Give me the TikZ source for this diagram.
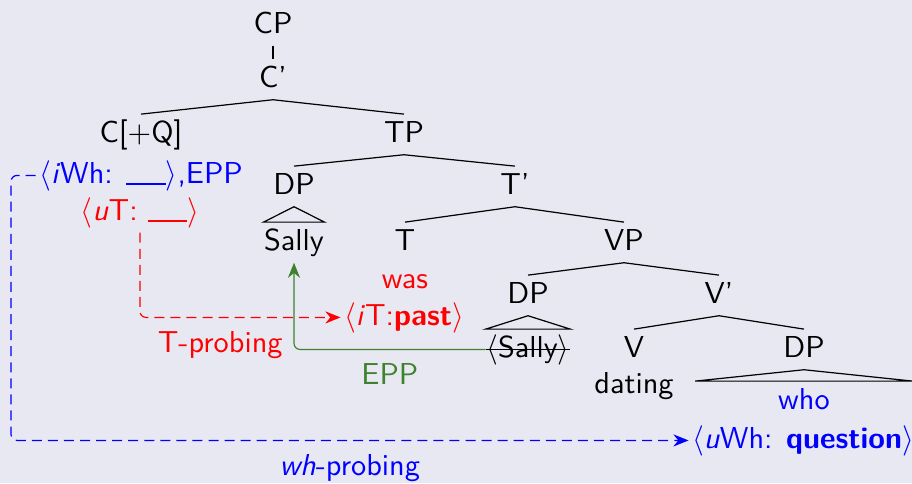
\documentclass[tikz,border=0pt]{standalone}
\usepackage{amsmath}
\usetikzlibrary{arrows.meta}
\renewcommand{\familydefault}{\sfdefault}
\definecolor{slidebg}{RGB}{232,232,242}
\definecolor{eppgreen}{RGB}{62,130,45}
\newcommand{\gap}{\rule[-0.5pt]{13pt}{0.5pt}}

\begin{document}
\begin{tikzpicture}[x=0.33pt, y=-0.33pt,
  cat/.style = {inner xsep=1pt, inner ysep=2pt, text height=7pt, text depth=2pt, anchor=base},
  leaf/.style = {cat, inner xsep=0pt},
  probe/.style = {dash pattern=on 3.3pt off 2pt, rounded corners=2pt, -{Stealth[length=5pt,width=4pt]}}]
\fill [slidebg] (0,0) rectangle (912,483);
\useasboundingbox (0,0) rectangle (912,483);

% categories
\node [cat] (cp) at (273,33) {CP};
\node [cat] (cbar) at (273,87) {C'};
\node [cat] (c) at (141,142) {C[+Q]};
\node [cat] (tp) at (404,142) {TP};
\node [cat] (dpsubj) at (294,194) {DP};
\node [cat] (tbar) at (515,194) {T'};
\node [cat] (t) at (405,250) {T};
\node [cat] (vp) at (624,250) {VP};
\node [cat] (dptrace) at (528,303) {DP};
\node [cat] (vbar) at (719,303) {V'};
\node [cat] (v) at (634,357) {V};
\node [cat] (dpobj) at (804,357) {DP};

% words and features
\node [leaf] (sally) at (294,250) {Sally};
\node [leaf] (sallyt) at (528,357) {$\langle$Sally$\rangle$};
\node [leaf, minimum width=71.5pt, text=blue] (who) at (804,409) {who};
\node [cat] (dating) at (634,393) {dating};
\node [cat, text=red] (was) at (405,288) {was};
\node [cat, text=blue] (iwh) at (141,183) {$\langle$\textit{i}Wh: \gap$\rangle$,EPP};
\node [cat, text=red] (ut) at (140,220) {$\langle$\textit{u}T: \gap$\rangle$};
\node [cat, text=red] (itpast) at (404,325) {$\langle$\textit{i}T:\textbf{past}$\rangle$};
\node [cat, text=blue] (uwhq) at (803,448) {$\langle$\textit{u}Wh: \textbf{question}$\rangle$};

% branches and roofs
\foreach \p/\c in {cp/cbar, cbar/c, cbar/tp, tp/dpsubj, tp/tbar, tbar/t, tbar/vp,
                   vp/dptrace, vp/vbar, vbar/v, vbar/dpobj}
  \draw (\p.south) -- (\c.north);
\foreach \p/\c in {dpsubj/sally, dptrace/sallyt, dpobj/who}
  \draw (\p.south) -- (\c.north west) -- (\c.north east) -- cycle;
\draw (sallyt.west) -- (sallyt.east);

% agreement and movement
\coordinate (whbend) at (11,0);
\draw [probe, blue] (iwh.west) -- (iwh.west -| whbend)
  |- node [pos=0.75, below, yshift=-1pt] {\textit{wh}-probing} (uwhq.west);
\draw [probe, red] (ut.south) |- node [pos=0.7, below, yshift=-1pt] {T-probing} (itpast.west);
\draw [eppgreen, rounded corners=2pt, -{Stealth[length=5pt,width=4pt]}] (sallyt.west)
  -| node [pos=0.25, below, yshift=-1pt] {EPP} (sally.south);
\end{tikzpicture}
\end{document}
